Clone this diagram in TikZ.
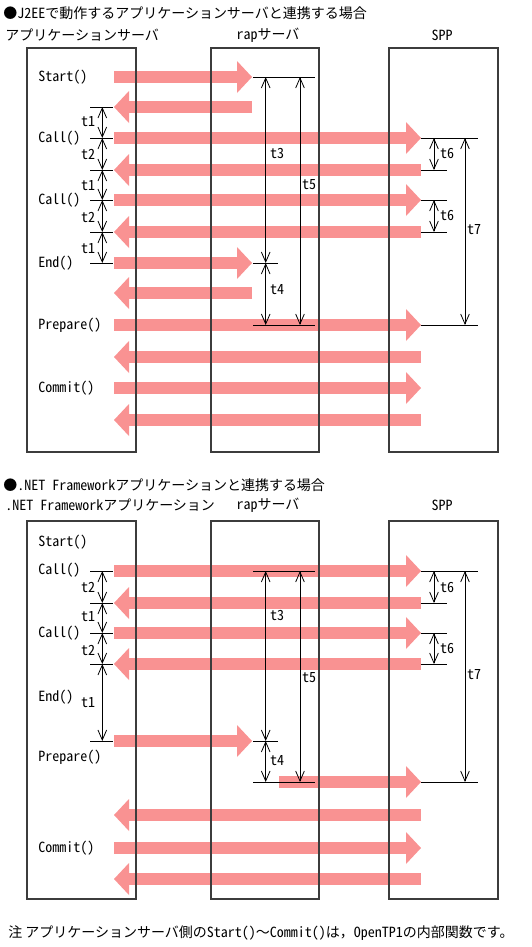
\documentclass[tikz,border=0pt]{standalone}
\usepackage{fontspec}
\setmainfont{Noto Sans CJK JP}
\newfontfamily\hw{Noto Sans CJK JP}[RawFeature=+hwid]
\usetikzlibrary{arrows.meta}

\definecolor{msgred}{RGB}{249,146,146}
\definecolor{boxgray}{RGB}{60,60,60}

\tikzset{
  lifebox/.style={draw=boxgray, line width=0.8pt},
  msg/.style={draw=msgred, line width=9pt, -{Triangle[length=11.25pt,width=24pt,line width=0pt]}},
  tick/.style={draw=black, line width=0.6pt},
  span/.style={draw=black, line width=0.6pt, {Straight Barb[length=7.5pt,width=6.5pt]}-{Straight Barb[length=7.5pt,width=6.5pt]}},
  lbl/.style={anchor=west, inner sep=0pt, font=\fontsize{10.5pt}{12pt}\selectfont},
  tlbl/.style={inner sep=0pt, font=\fontsize{10.5pt}{12pt}\selectfont\hw},
}

\begin{document}
\begin{tikzpicture}[x=0.75pt,y=0.75pt,yscale=-1,xscale=1]
\useasboundingbox (0,0) rectangle (532,947);

% columns
\coordinate (appR) at (114,0);
\coordinate (rapL) at (252,0);
\coordinate (rapM) at (279,0);
\coordinate (sppL) at (421,0);
\coordinate (ta0) at (90,0);
\coordinate (ta1) at (113,0);
\coordinate (da) at (102.3,0);
\coordinate (tr0) at (253,0);
\coordinate (tr1) at (278,0);
\coordinate (tr2) at (315,0);
\coordinate (d3) at (265.7,0);
\coordinate (d5) at (300,0);
\coordinate (tp0) at (421,0);
\coordinate (tp1) at (447,0);
\coordinate (tp2) at (478,0);
\coordinate (d6) at (434,0);
\coordinate (d7) at (465,0);

% rows
\foreach \n/\y in {s1/77,s2/107,s3/138,s4/170,s5/200,s6/232,s7/263,s8/293,s9/325,s10/357,s11/388,s12/420}
  \coordinate (\n) at (0,\y);
\foreach \n/\y in {n1/571,n2/603,n3/633,n4/664,n5/741,n6/782,n7/815,n8/848,n9/879}
  \coordinate (\n) at (0,\y);

% Text Node
\node[lbl] (title1) at (3,13) {●{\hw J2EE}で動作するアプリケーションサーバと連携する場合};
\node[lbl] (hdapp1) at (5,35) {アプリケーションサーバ};
\node[lbl, anchor=center] (hdrap1) at (268,35) {{\hw rap}サーバ};
\node[lbl, anchor=center] (hdspp1) at (442,35) {\hw SPP};

\node[lbl] (title2) at (3,485) {●{\hw .NET Framework}アプリケーションと連携する場合};
\node[lbl] (hdapp2) at (5,505) {{\hw .NET Framework}アプリケーション};
\node[lbl, anchor=center] (hdrap2) at (268,505) {{\hw rap}サーバ};
\node[lbl, anchor=center] (hdspp2) at (442,505) {\hw SPP};

\node[lbl] (note) at (8,933) {注 アプリケーションサーバ側の{\hw Start()}～{\hw Commit()}は，{\hw OpenTP1}の内部関数です。};

% function names
\foreach \n/\y/\t in {fa1/77/Start(), fa2/138/Call(), fa3/200/Call(), fa4/263/End(), fa5/325/Prepare(), fa6/388/Commit(),
                      fb1/542/Start(), fb2/570/Call(), fb3/633/Call(), fb4/697/End(), fb5/757/Prepare(), fb6/848/Commit()}
  \node[lbl, font=\fontsize{10.5pt}{12pt}\selectfont\hw] (\n) at (38,\y) {\t};

%Straight Lines (messages)
\foreach \a/\b/\r in {appR/rapL/s1, rapL/appR/s2, appR/sppL/s3, sppL/appR/s4, appR/sppL/s5, sppL/appR/s6,
                      appR/rapL/s7, rapL/appR/s8, appR/sppL/s9, sppL/appR/s10, appR/sppL/s11, sppL/appR/s12,
                      appR/sppL/n1, sppL/appR/n2, appR/sppL/n3, sppL/appR/n4, appR/rapL/n5, rapM/sppL/n6,
                      sppL/appR/n7, appR/sppL/n8, sppL/appR/n9}
  \draw[msg] (\a |- \r) -- (\b |- \r);

% lifeline boxes
\draw[lifebox] (27,48) rectangle (136,452);
\draw[lifebox] (211,48) rectangle (319,452);
\draw[lifebox] (389,48) rectangle (498,452);
\draw[lifebox] (27,521) rectangle (136,899);
\draw[lifebox] (211,521) rectangle (319,899);
\draw[lifebox] (389,521) rectangle (498,899);

%Straight Lines (ticks)
\foreach \r in {s2,s3,s4,s5,s6,s7,n1,n2,n3,n4,n5}
  \draw[tick] (ta0 |- \r) -- (ta1 |- \r);
\foreach \r in {s1,s9,n1,n6}
  \draw[tick] (tr0 |- \r) -- (tr2 |- \r);
\foreach \r in {s7,n5}
  \draw[tick] (tr0 |- \r) -- (tr1 |- \r);
\foreach \r in {s3,s9,n1,n6}
  \draw[tick] (tp0 |- \r) -- (tp2 |- \r);
\foreach \r in {s4,s5,s6,n2,n3,n4}
  \draw[tick] (tp0 |- \r) -- (tp1 |- \r);

%Straight Lines (spans)
\foreach \c/\p/\q in {da/s2/s3, da/s3/s4, da/s4/s5, da/s5/s6, da/s6/s7,
                      d3/s1/s7, d3/s7/s9, d5/s1/s9, d6/s3/s4, d6/s5/s6, d7/s3/s9,
                      da/n1/n2, da/n2/n3, da/n3/n4, da/n4/n5,
                      d3/n1/n5, d3/n5/n6, d5/n1/n6, d6/n1/n2, d6/n3/n4, d7/n1/n6}
  \draw[span] (\c |- \p) -- (\c |- \q);

% Text Node (times)
\foreach \n/\x/\y/\t in {ua1/88/122/t1, ua2/88/154/t2, ua3/88/186/t1, ua4/88/217/t2, ua5/88/249/t1,
                         ua6/277/153/t3, ua7/309/185/t5, ua8/277/290/t4,
                         ua9/447/153/t6, ua10/447/215/t6, ua11/474/230/t7,
                         ub1/88/587/t2, ub2/88/617/t1, ub3/88/650/t2, ub4/88/703/t1,
                         ub5/277/615/t3, ub6/309/678/t5, ub7/277/761/t4,
                         ub8/447/587/t6, ub9/447/648/t6, ub10/474/675/t7}
  \node[tlbl] (\n) at (\x,\y) {\t};

\end{tikzpicture}
\end{document}
